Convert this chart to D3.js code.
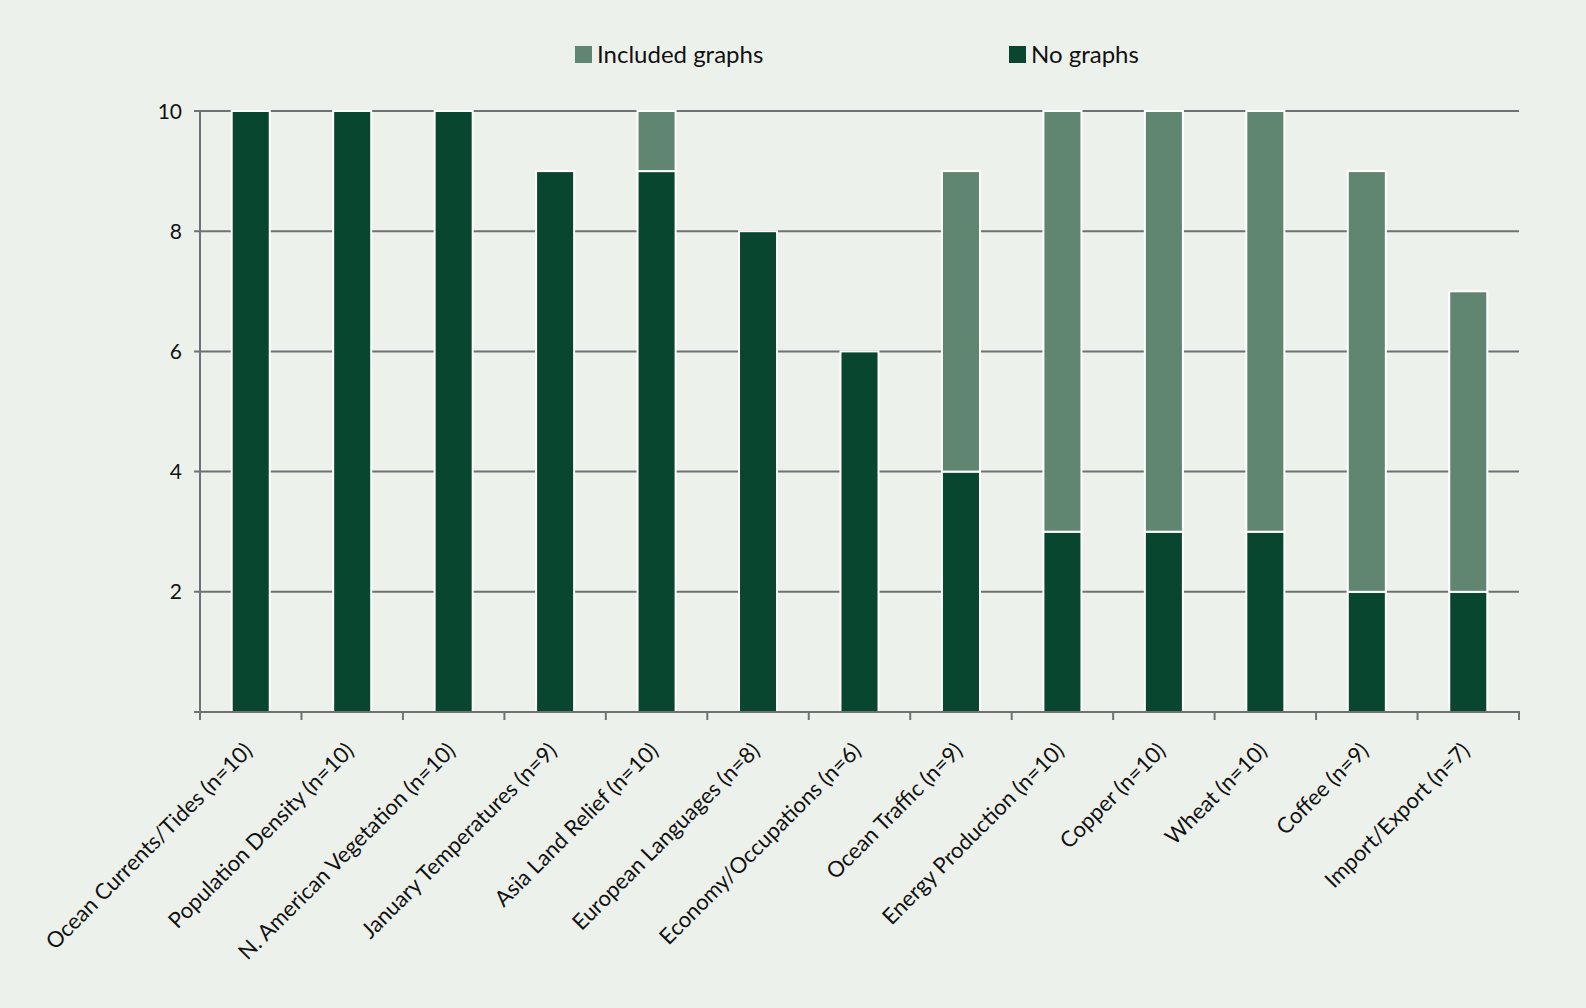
<!DOCTYPE html>
<html>
<head>
<meta charset="utf-8">
<script src="https://cdn.jsdelivr.net/npm/d3@7"></script>
<style>
  body { margin: 0; background: #edf1ec; }
  svg { display: block; font-family: Lato, "Noto Sans", sans-serif; }
</style>
</head>
<body>
<svg width="1586" height="1008"></svg>
<script>
const categories = [
  'Ocean Currents/Tides (n=10)', 'Population Density (n=10)', 'N. American Vegetation (n=10)',
  'January Temperatures (n=9)', 'Asia Land Relief (n=10)', 'European Languages (n=8)',
  'Economy/Occupations (n=6)', 'Ocean Traffic (n=9)', 'Energy Production (n=10)',
  'Copper (n=10)', 'Wheat (n=10)', 'Coffee (n=9)', 'Import/Export (n=7)'
];
const noGraphs = [10, 10, 10, 9, 9, 8, 6, 4, 3, 3, 3, 2, 2];
const includedGraphs = [0, 0, 0, 0, 1, 0, 0, 5, 7, 7, 7, 7, 5];
const yTicks = [2, 4, 6, 8, 10];

const svg = d3.select('svg');
const width = +svg.attr('width');
const height = +svg.attr('height');

const margin = { top: 111, right: 67, bottom: 296, left: 200 };
const innerW = width - margin.left - margin.right;
const innerH = height - margin.top - margin.bottom;

const colors = { 'No graphs': '#08462f', 'Included graphs': '#608570' };
const gridColor = '#707172';

svg.append('rect').attr('width', width).attr('height', height).attr('fill', '#edf1ec');

const g = svg.append('g').attr('transform', `translate(${margin.left},${margin.top})`);

const x = d3.scaleBand()
  .domain(categories)
  .range([0, innerW])
  .paddingInner(0.625)
  .paddingOuter(0.3125);

const y = d3.scaleLinear().domain([0, 10]).range([innerH, 0]);

// gridlines (with little ticks on the left)
g.selectAll('.grid')
  .data(yTicks)
  .join('line')
  .attr('x1', -6)
  .attr('x2', innerW)
  .attr('y1', d => y(d))
  .attr('y2', d => y(d))
  .attr('stroke', gridColor)
  .attr('stroke-width', 2);

// y labels
g.selectAll('.ylab')
  .data(yTicks)
  .join('text')
  .attr('x', -18)
  .attr('y', d => y(d))
  .attr('dy', '0.36em')
  .attr('text-anchor', 'end')
  .attr('font-size', 21)
  .attr('fill', '#111')
  .text(d => d);

// stacked data
const rows = categories.map((c, i) => ({ cat: c, 'No graphs': noGraphs[i], 'Included graphs': includedGraphs[i] }));
const stack = d3.stack().keys(['No graphs', 'Included graphs']);
const series = stack(rows);

g.selectAll('.series')
  .data(series)
  .join('g')
  .attr('fill', d => colors[d.key])
  .selectAll('rect')
  .data(d => d.filter(p => p[1] > p[0]))
  .join('rect')
  .attr('x', d => x(d.data.cat))
  .attr('width', x.bandwidth())
  .attr('y', d => y(d[1]))
  .attr('height', d => y(d[0]) - y(d[1]))
  .attr('stroke', '#ffffff')
  .attr('stroke-width', 2);

// axes lines
g.append('line')
  .attr('x1', 0).attr('x2', 0)
  .attr('y1', y(10) - 1).attr('y2', innerH + 8)
  .attr('stroke', gridColor).attr('stroke-width', 2);

g.append('line')
  .attr('x1', -6).attr('x2', innerW + 1)
  .attr('y1', innerH).attr('y2', innerH)
  .attr('stroke', gridColor).attr('stroke-width', 2);

// x ticks at band boundaries
const boundaries = categories.map(c => x(c) - x.step() * x.paddingInner() / 2).concat([innerW]);
g.selectAll('.xtick')
  .data(boundaries)
  .join('line')
  .attr('x1', d => d).attr('x2', d => d)
  .attr('y1', innerH).attr('y2', innerH + 8)
  .attr('stroke', gridColor).attr('stroke-width', 2);

// x labels
g.selectAll('.xlab')
  .data(categories)
  .join('text')
  .attr('transform', d => `translate(${x(d) + x.bandwidth() / 2 + 3},${innerH + 40}) rotate(-45)`)
  .attr('text-anchor', 'end')
  .attr('font-size', 22)
  .attr('fill', '#111')
  .text(d => d);

// legend
const legendItems = [
  { key: 'Included graphs', x: 575 },
  { key: 'No graphs', x: 1009 }
];
const legend = svg.selectAll('.legend')
  .data(legendItems)
  .join('g')
  .attr('transform', d => `translate(${d.x},46)`);

legend.append('rect')
  .attr('width', 17).attr('height', 17)
  .attr('fill', d => colors[d.key]);

legend.append('text')
  .attr('x', 22)
  .attr('y', 17)
  .attr('font-size', 24)
  .attr('fill', '#111')
  .text(d => d.key);
</script>
</body>
</html>
